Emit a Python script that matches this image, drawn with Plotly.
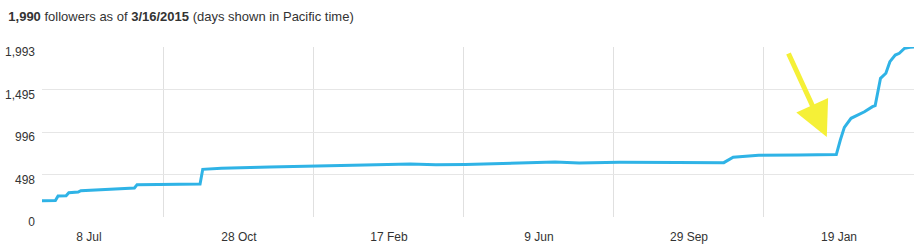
import plotly.graph_objects as go

# ---- data ----
dates = [
    "2013-06-03", "2013-06-13", "2013-06-15", "2013-06-21", "2013-06-23",
    "2013-06-30", "2013-07-02", "2013-07-20", "2013-08-08", "2013-08-11",
    "2013-08-13", "2013-09-15", "2013-09-29", "2013-10-01", "2013-10-15",
    "2013-11-20", "2013-12-20", "2014-01-30", "2014-03-05", "2014-03-24",
    "2014-04-15", "2014-05-18", "2014-06-21", "2014-07-09", "2014-08-08",
    "2014-09-20", "2014-10-25", "2014-11-01", "2014-11-20", "2014-12-20",
    "2015-01-17", "2015-01-20", "2015-01-22", "2015-01-23", "2015-01-28",
    "2015-02-02", "2015-02-07", "2015-02-13", "2015-02-15", "2015-02-19",
    "2015-02-23", "2015-02-26", "2015-03-02", "2015-03-05", "2015-03-09",
    "2015-03-13", "2015-03-16",
]
followers = [
    191, 193, 246, 250, 285,
    292, 308, 322, 336, 340,
    379, 383, 388, 559, 571,
    585, 598, 610, 621, 613,
    616, 633, 645, 633, 641,
    639, 637, 700, 723, 727,
    732, 903, 1020, 1051, 1157,
    1196, 1234, 1293, 1305, 1626,
    1685, 1821, 1899, 1919, 1978,
    1990, 1993,
]

x_tick_dates = ["2013-07-08", "2013-10-28", "2014-02-17", "2014-06-09", "2014-09-29", "2015-01-19"]
x_tick_text = ["8 Jul", "28 Oct", "17 Feb", "9 Jun", "29 Sep", "19 Jan"]
y_tick_vals = [0, 498, 996, 1495, 1993]
y_tick_text = ["0", "498", "996", "1,495", "1,993"]
x_range = ["2013-06-03", "2015-03-16"]
grid_start = "2013-09-02"
grid_step_days = 112

FONT = "Liberation Sans, Arial, Helvetica, sans-serif"

fig = go.Figure()
fig.add_trace(go.Scatter(
    x=dates, y=followers, mode="lines",
    line=dict(color="#2fb3e6", width=3),
    hoverinfo="skip", showlegend=False,
))

fig.update_layout(
    template="none",
    width=924, height=246,
    margin=dict(l=42, r=10, t=47, b=29, autoexpand=False),
    paper_bgcolor="white", plot_bgcolor="white",
    font=dict(family=FONT, size=12, color="#333333"),
    title=dict(
        text="<b>1,990</b> followers as of <b>3/16/2015</b> (days shown in Pacific time)",
        x=0.009, xanchor="left", xref="container",
        y=0.935, yanchor="middle", yref="container",
        font=dict(family=FONT, size=13, color="#333333"),
    ),
    xaxis=dict(
        type="date", range=x_range, automargin=False,
        tickvals=x_tick_dates, ticktext=x_tick_text,
        showgrid=False, zeroline=False, showline=False, ticks="",
        ticklabelstandoff=11,
        tickfont=dict(size=12, color="#333333"),
        minor=dict(
            tick0=grid_start, dtick=grid_step_days * 86400000,
            showgrid=True, gridcolor="#e0e0e0", gridwidth=1, ticks="",
        ),
    ),
    yaxis=dict(
        range=[0, max(y_tick_vals)], automargin=False,
        tickvals=y_tick_vals, ticktext=y_tick_text,
        showgrid=True, gridcolor="#e6e6e6", gridwidth=1,
        zeroline=False, showline=False, ticks="",
        ticklabelstandoff=6, ticklabelshift=5,
        tickfont=dict(size=12, color="#333333"),
    ),
)

fig.add_annotation(
    xref="paper", yref="paper", x=0.900, y=0.4706,
    ax=-39, ay=-85, axref="pixel", ayref="pixel",
    text="", showarrow=True,
    arrowhead=2, arrowsize=1.4, arrowwidth=5, arrowcolor="#f5f037",
)

fig.write_html("out.html")
